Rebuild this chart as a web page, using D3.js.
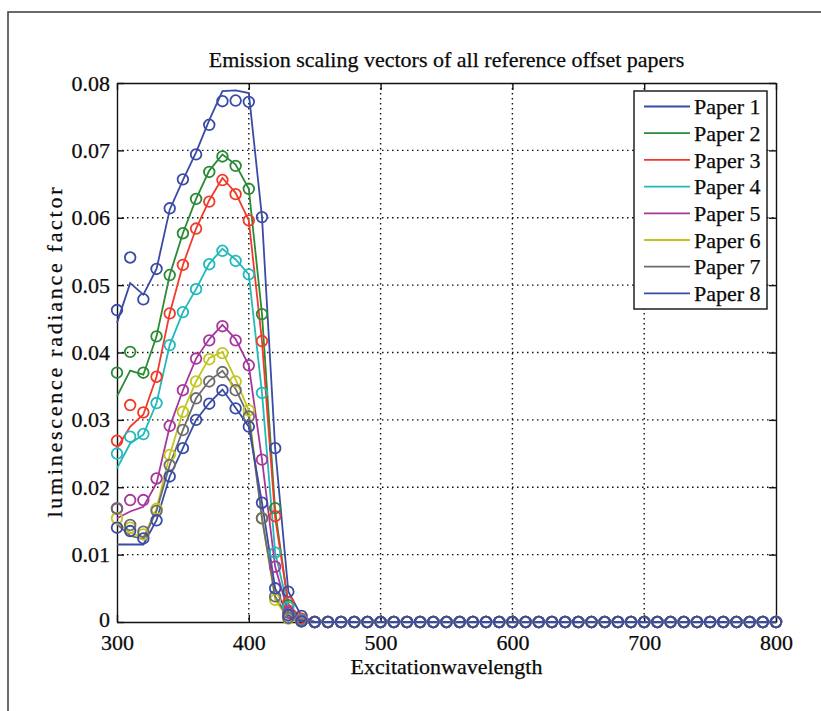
<!DOCTYPE html>
<html>
<head>
<meta charset="utf-8">
<script src="https://cdn.jsdelivr.net/npm/d3@7"></script>
<style>
body { margin: 0; background: #fff; }
text { font-family: "Liberation Serif", "Times New Roman", serif; fill: #0a0a0a; stroke: #0a0a0a; stroke-width: 0.25px; }
</style>
</head>
<body>
<div id="chart"></div>
<script>
// excitation wavelengths (nm), one point every 10 nm
const wavelengths = [300,310,320,330,340,350,360,370,380,390,400,410,420,430,440,
  450,460,470,480,490,500,510,520,530,540,550,560,570,580,590,600,610,620,630,640,
  650,660,670,680,690,700,710,720,730,740,750,760,770,780,790,800];
// 450..800 nm, every paper is zero there
const zeroTail = [0,0,0,0,0,0,0,0,0,0,0,0,0,0,0,0,0,0,0,0,0,0,0,0,0,0,0,0,0,0,0,0,0,0,0,0];

const paperNames = ["Paper 1","Paper 2","Paper 3","Paper 4","Paper 5","Paper 6","Paper 7","Paper 8"];
const paperColors = ["#3a4ba6","#2a8a36","#f23a2a","#22b9bb","#a8379c","#c2c61f","#6c6c6c","#3a4ba6"];

// 300..440 nm: line values and circle marker values
const p1Line = [0.0444,0.0503,0.0486,0.0524,0.0612,0.0656,0.0697,0.0745,0.0788,0.0789,0.0785,0.0601,0.0258,0.0045,0.0009];
const p1Mark = [0.0463,0.0541,0.0479,0.0524,0.0614,0.0657,0.0694,0.0738,0.0773,0.0774,0.0772,0.0601,0.0258,0.0045,0.0009];
const p2Line = [0.0335,0.0373,0.0367,0.0424,0.0515,0.0577,0.0628,0.0670,0.0694,0.0679,0.0643,0.0457,0.0165,0.0025,0.0004];
const p2Mark = [0.0370,0.0401,0.0370,0.0424,0.0515,0.0577,0.0628,0.0668,0.0691,0.0677,0.0643,0.0457,0.0169,0.0025,0.0004];
const p3Line = [0.0258,0.0290,0.0308,0.0364,0.0458,0.0530,0.0584,0.0626,0.0659,0.0637,0.0596,0.0417,0.0155,0.0027,0.0005];
const p3Mark = [0.0269,0.0322,0.0311,0.0364,0.0458,0.0530,0.0584,0.0624,0.0656,0.0635,0.0596,0.0417,0.0157,0.0029,0.0005];
const p4Line = [0.0228,0.0265,0.0278,0.0325,0.0411,0.0460,0.0494,0.0532,0.0554,0.0538,0.0516,0.0340,0.0103,0.0020,0.0003];
const p4Mark = [0.0250,0.0275,0.0279,0.0325,0.0411,0.0460,0.0494,0.0531,0.0551,0.0536,0.0516,0.0340,0.0103,0.0022,0.0003];
const p5Line = [0.0154,0.0164,0.0171,0.0206,0.0290,0.0344,0.0391,0.0420,0.0441,0.0420,0.0381,0.0241,0.0082,0.0014,0.0002];
const p5Mark = [0.0168,0.0181,0.0181,0.0213,0.0291,0.0344,0.0391,0.0418,0.0439,0.0418,0.0381,0.0241,0.0082,0.0014,0.0002];
const p6Line = [0.0149,0.0132,0.0126,0.0168,0.0248,0.0312,0.0357,0.0392,0.0401,0.0360,0.0314,0.0154,0.0033,0.0005,0.0001];
const p6Mark = [0.0154,0.0140,0.0130,0.0168,0.0248,0.0312,0.0357,0.0390,0.0399,0.0357,0.0314,0.0154,0.0033,0.0005,0.0001];
const p7Line = [0.0145,0.0128,0.0123,0.0165,0.0233,0.0285,0.0332,0.0358,0.0373,0.0346,0.0305,0.0154,0.0038,0.0006,0.0001];
const p7Mark = [0.0169,0.0144,0.0134,0.0165,0.0233,0.0285,0.0332,0.0357,0.0371,0.0344,0.0305,0.0154,0.0038,0.0006,0.0001];
const p8Line = [0.0115,0.0115,0.0115,0.0151,0.0216,0.0258,0.0300,0.0325,0.0345,0.0318,0.0290,0.0177,0.0050,0.0010,0.0001];
const p8Mark = [0.0140,0.0135,0.0124,0.0151,0.0216,0.0258,0.0300,0.0324,0.0344,0.0317,0.0290,0.0177,0.0050,0.0010,0.0001];

const xTicks = [300,400,500,600,700,800];
const yTicks = [0,0.01,0.02,0.03,0.04,0.05,0.06,0.07,0.08];

const lineSets = [p1Line,p2Line,p3Line,p4Line,p5Line,p6Line,p7Line,p8Line];
const markSets = [p1Mark,p2Mark,p3Mark,p4Mark,p5Mark,p6Mark,p7Mark,p8Mark];

const papers = paperNames.map(function (name, i) {
    return {
        name: name,
        color: paperColors[i],
        line: lineSets[i].concat(zeroTail).map((v, j) => [wavelengths[j], v]),
        marks: markSets[i].concat(zeroTail).map((v, j) => [wavelengths[j], v])
    };
});

const margin = {top: 83, right: 45, bottom: 89, left: 117};
const width = 821 - margin.left - margin.right;
const height = 711 - margin.top - margin.bottom;
const fontSize = "22px";

const root = d3.select("#chart").append("svg")
    .attr("width", 821)
    .attr("height", 711);

// outer figure frame (runs off the right and bottom of the picture)
root.append("rect")
    .attr("x", 8).attr("y", 12)
    .attr("width", 900).attr("height", 800)
    .attr("fill", "none")
    .attr("stroke", "#3a3a3a")
    .attr("stroke-width", 1.5);

const svg = root.append("g")
    .attr("transform", "translate(" + margin.left + "," + margin.top + ")");

const x = d3.scaleLinear().domain([300, 800]).range([0, width]);
const y = d3.scaleLinear().domain([0, 0.08]).range([height, 0]);

// dotted grid
svg.selectAll("vgrid")
    .data(xTicks.slice(1, -1))
    .join("line")
    .attr("x1", d => x(d)).attr("x2", d => x(d))
    .attr("y1", 0).attr("y2", height)
    .attr("stroke", "#111")
    .attr("stroke-width", 1.4)
    .attr("stroke-dasharray", "1.5,3.5");

svg.selectAll("hgrid")
    .data(yTicks.slice(1, -1))
    .join("line")
    .attr("x1", 0).attr("x2", width)
    .attr("y1", d => y(d)).attr("y2", d => y(d))
    .attr("stroke", "#111")
    .attr("stroke-width", 1.4)
    .attr("stroke-dasharray", "1.5,3.5");

// axes, MATLAB style ticks pointing inwards
const yFmt = d => d === 0 ? "0" : d3.format(".2f")(d);

svg.append("g")
    .attr("transform", `translate(0, ${height})`)
    .call(d3.axisBottom(x).tickValues(xTicks).tickSize(-7).tickSizeOuter(0).tickPadding(12))
    .call(g => g.selectAll("text").style("font-size", fontSize));

svg.append("g")
    .call(d3.axisLeft(y).tickValues(yTicks).tickFormat(yFmt).tickSize(-7).tickSizeOuter(0).tickPadding(7))
    .call(g => g.selectAll("text").style("font-size", fontSize))
    // keep the "0" clear of the "300" below it
    .call(g => g.selectAll("text").filter(d => d === 0).attr("dy", "0.2em"));

svg.append("g")
    .call(d3.axisTop(x).tickValues(xTicks).tickSize(-7).tickSizeOuter(0).tickFormat(""));

svg.append("g")
    .attr("transform", `translate(${width}, 0)`)
    .call(d3.axisRight(y).tickValues(yTicks).tickSize(-7).tickSizeOuter(0).tickFormat(""));

svg.selectAll(".domain, .tick line")
    .attr("stroke", "#111")
    .attr("stroke-width", 1.4);

// title and axis labels
svg.append("text")
    .attr("text-anchor", "middle")
    .attr("x", width / 2)
    .attr("y", -16)
    .style("font-size", fontSize)
    .text("Emission scaling vectors of all reference offset papers");

svg.append("text")
    .attr("text-anchor", "middle")
    .attr("x", width / 2)
    .attr("y", height + 52)
    .style("font-size", fontSize)
    .text("Excitationwavelength");

svg.append("text")
    .attr("text-anchor", "middle")
    .attr("transform", `translate(-55, ${height / 2}) rotate(-90)`)
    .attr("textLength", 330)
    .attr("lengthAdjust", "spacing")
    .style("font-size", fontSize)
    .text("luminescence radiance factor");

// lines first, then the circle markers on top
const line = d3.line()
    .x(d => x(d[0]))
    .y(d => y(d[1]));

svg.selectAll("paperLines")
    .data(papers)
    .join("path")
    .attr("d", d => line(d.line))
    .attr("stroke", d => d.color)
    .attr("stroke-width", 1.8)
    .attr("fill", "none");

svg.selectAll("paperDots")
    .data(papers)
    .join("g")
    .attr("stroke", d => d.color)
    .selectAll("circle")
    .data(d => d.marks)
    .join("circle")
    .attr("cx", d => x(d[0]))
    .attr("cy", d => y(d[1]))
    .attr("r", 5.3)
    .attr("fill", "none")
    .attr("stroke-width", 1.8);

// legend
const legend = svg.append("g")
    .attr("transform", `translate(${width - 142}, 8)`);

legend.append("rect")
    .attr("width", 133)
    .attr("height", 218)
    .attr("fill", "#fff")
    .attr("stroke", "#111")
    .attr("stroke-width", 1.4);

const rowH = 26.7;

legend.selectAll("legLines")
    .data(papers)
    .join("line")
    .attr("x1", 10).attr("x2", 56)
    .attr("y1", (d, i) => 15.5 + i * rowH)
    .attr("y2", (d, i) => 15.5 + i * rowH)
    .attr("stroke", d => d.color)
    .attr("stroke-width", 1.8);

legend.selectAll("legText")
    .data(papers)
    .join("text")
    .attr("x", 60)
    .attr("y", (d, i) => 15.5 + i * rowH)
    .attr("dy", "0.35em")
    .style("font-size", fontSize)
    .text(d => d.name);
</script>
</body>
</html>
